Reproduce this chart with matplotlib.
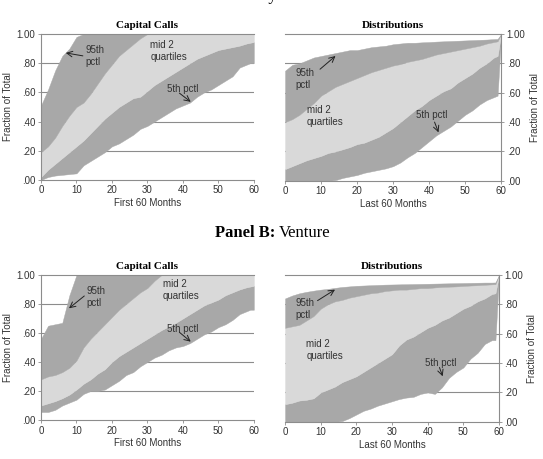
"""
Appels de capital et distributions : bandes de percentiles (Buyout / Venture)
"""

import matplotlib
matplotlib.use('Agg')
import matplotlib.pyplot as plt

# Mois (axe x commun aux quatre panneaux)
MONTHS = [0, 2, 4, 6, 8, 10, 12, 14, 16, 18, 20, 22, 24, 26, 28, 30,
          32, 34, 36, 38, 40, 42, 44, 46, 48, 50, 52, 54, 56, 58, 59, 60]

# Panel A (Buyout) - appels de capital
b_calls_p95 = [0.51, 0.62, 0.75, 0.85, 0.90, 0.98, 1.0, 1.0, 1.0, 1.0, 1.0, 1.0, 1.0, 1.0, 1.0, 1.0,
               1.0, 1.0, 1.0, 1.0, 1.0, 1.0, 1.0, 1.0, 1.0, 1.0, 1.0, 1.0, 1.0, 1.0, 1.0, 1.0]
b_calls_p75 = [0.19, 0.23, 0.29, 0.37, 0.44, 0.50, 0.53, 0.59, 0.66, 0.73, 0.79, 0.85, 0.89, 0.93, 0.97, 1.0,
               1.0, 1.0, 1.0, 1.0, 1.0, 1.0, 1.0, 1.0, 1.0, 1.0, 1.0, 1.0, 1.0, 1.0, 1.0, 1.0]
b_calls_p25 = [0.02, 0.07, 0.11, 0.15, 0.19, 0.23, 0.27, 0.32, 0.37, 0.42, 0.46, 0.50, 0.53, 0.56, 0.57, 0.61,
               0.65, 0.68, 0.71, 0.74, 0.77, 0.80, 0.83, 0.85, 0.87, 0.89, 0.90, 0.91, 0.92, 0.935, 0.94, 0.945]
b_calls_p05 = [0.0, 0.02, 0.03, 0.035, 0.04, 0.045, 0.10, 0.13, 0.16, 0.19, 0.23, 0.25, 0.28, 0.31, 0.35, 0.37,
               0.40, 0.43, 0.46, 0.49, 0.51, 0.53, 0.57, 0.60, 0.62, 0.65, 0.68, 0.71, 0.77, 0.79, 0.80, 0.80]

# Panel A (Buyout) - distributions
b_dist_p95 = [0.75, 0.79, 0.80, 0.82, 0.84, 0.85, 0.86, 0.87, 0.88, 0.89, 0.89, 0.90, 0.91, 0.915, 0.92, 0.93,
              0.935, 0.94, 0.94, 0.943, 0.945, 0.948, 0.95, 0.952, 0.954, 0.956, 0.958, 0.96, 0.962, 0.965, 0.966, 1.0]
b_dist_p75 = [0.40, 0.42, 0.45, 0.49, 0.53, 0.58, 0.61, 0.64, 0.66, 0.68, 0.70, 0.72, 0.74, 0.755, 0.77, 0.785,
              0.795, 0.81, 0.82, 0.83, 0.845, 0.86, 0.87, 0.88, 0.89, 0.90, 0.91, 0.92, 0.935, 0.945, 0.95, 1.0]
b_dist_p25 = [0.08, 0.10, 0.12, 0.14, 0.155, 0.17, 0.19, 0.20, 0.215, 0.23, 0.25, 0.26, 0.28, 0.30, 0.33, 0.36,
              0.40, 0.44, 0.48, 0.51, 0.55, 0.58, 0.61, 0.63, 0.67, 0.70, 0.73, 0.77, 0.80, 0.84, 0.85, 1.0]
b_dist_p05 = [0.0, 0.0, 0.0, 0.0, 0.0, 0.0, 0.0, 0.005, 0.02, 0.03, 0.04, 0.055, 0.065, 0.075, 0.085, 0.10,
              0.125, 0.16, 0.19, 0.23, 0.27, 0.31, 0.34, 0.37, 0.41, 0.45, 0.48, 0.52, 0.55, 0.57, 0.58, 1.0]

# Panel B (Venture) - appels de capital
v_calls_p95 = [0.56, 0.65, 0.66, 0.67, 0.86, 1.0, 1.0, 1.0, 1.0, 1.0, 1.0, 1.0, 1.0, 1.0, 1.0, 1.0,
               1.0, 1.0, 1.0, 1.0, 1.0, 1.0, 1.0, 1.0, 1.0, 1.0, 1.0, 1.0, 1.0, 1.0, 1.0, 1.0]
v_calls_p75 = [0.28, 0.30, 0.31, 0.33, 0.36, 0.41, 0.50, 0.56, 0.61, 0.66, 0.71, 0.76, 0.80, 0.84, 0.88, 0.91,
               0.96, 1.0, 1.0, 1.0, 1.0, 1.0, 1.0, 1.0, 1.0, 1.0, 1.0, 1.0, 1.0, 1.0, 1.0, 1.0]
v_calls_p25 = [0.10, 0.115, 0.13, 0.15, 0.175, 0.21, 0.25, 0.28, 0.32, 0.35, 0.40, 0.44, 0.47, 0.50, 0.53, 0.56,
               0.59, 0.62, 0.645, 0.67, 0.70, 0.73, 0.76, 0.79, 0.81, 0.83, 0.86, 0.88, 0.90, 0.915, 0.92, 0.925]
v_calls_p05 = [0.055, 0.055, 0.07, 0.10, 0.12, 0.14, 0.18, 0.20, 0.20, 0.21, 0.24, 0.27, 0.31, 0.33, 0.37, 0.40,
               0.43, 0.45, 0.48, 0.50, 0.51, 0.53, 0.56, 0.59, 0.61, 0.64, 0.66, 0.69, 0.73, 0.75, 0.76, 0.76]

# Panel B (Venture) - distributions
v_dist_p95 = [0.84, 0.86, 0.875, 0.885, 0.893, 0.90, 0.905, 0.912, 0.918, 0.922, 0.926, 0.928, 0.93, 0.932, 0.934, 0.935,
              0.936, 0.937, 0.938, 0.939, 0.94, 0.941, 0.942, 0.943, 0.944, 0.945, 0.946, 0.947, 0.948, 0.948, 0.949, 1.0]
v_dist_p75 = [0.64, 0.65, 0.66, 0.69, 0.72, 0.77, 0.80, 0.82, 0.83, 0.845, 0.855, 0.865, 0.875, 0.88, 0.89, 0.895,
              0.90, 0.90, 0.905, 0.91, 0.91, 0.915, 0.918, 0.92, 0.922, 0.925, 0.928, 0.93, 0.933, 0.936, 0.937, 1.0]
v_dist_p25 = [0.12, 0.13, 0.145, 0.15, 0.16, 0.20, 0.22, 0.24, 0.27, 0.29, 0.31, 0.34, 0.37, 0.40, 0.43, 0.46,
              0.52, 0.56, 0.58, 0.61, 0.64, 0.66, 0.69, 0.71, 0.74, 0.77, 0.79, 0.82, 0.84, 0.87, 0.875, 1.0]
v_dist_p05 = [0.0, 0.0, 0.0, 0.0, 0.0, 0.0, 0.0, 0.0, 0.005, 0.025, 0.05, 0.075, 0.09, 0.11, 0.125, 0.14,
              0.155, 0.165, 0.17, 0.19, 0.20, 0.19, 0.235, 0.30, 0.34, 0.37, 0.43, 0.47, 0.53, 0.556, 0.556, 1.0]

Y_TICKS = [0.0, 0.2, 0.4, 0.6, 0.8, 1.0]
Y_TICK_LABELS = ['.00', '.20', '.40', '.60', '.80', '1.00']
X_TICKS = [0, 10, 20, 30, 40, 50, 60]

# Couleurs
DARK = '#a8a8a8'
LIGHT = '#d9d9d9'
GRID = '#8c8c8c'
TEXT = '#333333'

SANS = 'Liberation Sans'
SERIF = 'Liberation Serif'


def draw_panel(ax, p05, p25, p75, p95, title, xlabel, side):
    """Dessine les trois bandes de percentiles et habille l'axe"""
    ax.fill_between(MONTHS, p05, p25, color=DARK, lw=0.3, ec=DARK, zorder=2)
    ax.fill_between(MONTHS, p25, p75, color=LIGHT, lw=0.3, ec=LIGHT, zorder=2)
    ax.fill_between(MONTHS, p75, p95, color=DARK, lw=0.3, ec=DARK, zorder=2)

    # Lignes horizontales derrière les bandes
    for y in Y_TICKS[1:-1]:
        ax.axhline(y, color=GRID, lw=0.8, zorder=1)

    ax.set_xlim(0, 60)
    ax.set_ylim(0, 1)
    ax.set_xticks(X_TICKS)
    ax.set_xticklabels([str(x) for x in X_TICKS], fontsize=7, family=SANS, color=TEXT)
    ax.set_yticks(Y_TICKS)
    ax.set_yticklabels(Y_TICK_LABELS, fontsize=7, family=SANS, color=TEXT)
    ax.tick_params(length=2.5, width=0.6, color=GRID, pad=1.5)

    for name in ['top', 'bottom', 'left', 'right']:
        ax.spines[name].set_color(GRID)
        ax.spines[name].set_linewidth(0.8)
        ax.spines[name].set_zorder(3)

    if side == 'left':
        ax.spines['right'].set_visible(False)
    else:
        ax.spines['left'].set_visible(False)
        ax.yaxis.tick_right()
        ax.yaxis.set_label_position('right')

    ax.set_title(title, fontsize=8, family=SERIF, weight='bold', pad=4)
    ax.set_xlabel(xlabel, fontsize=7, family=SANS, color=TEXT, labelpad=2)
    ax.set_ylabel('Fraction of Total', fontsize=7, family=SANS, color=TEXT, labelpad=3)


def label(ax, text, xy, tip=None, start=None):
    """Ajoute une étiquette de percentile, avec une flèche éventuelle"""
    ax.text(xy[0], xy[1], text, fontsize=7, family=SANS, color=TEXT,
            ha='left', va='center', linespacing=1.25, zorder=5)
    if tip is not None:
        ax.annotate('', xy=tip, xytext=start, zorder=5,
                    arrowprops=dict(arrowstyle='->', color='#222222', lw=0.7,
                                    shrinkA=0, shrinkB=0))


def main():
    """Fonction principale"""
    fig = plt.figure(figsize=(5.43, 4.59), dpi=100)

    ax_a1 = fig.add_axes([0.0755, 0.608, 0.392, 0.318])
    ax_a2 = fig.add_axes([0.525, 0.606, 0.398, 0.320])
    ax_b1 = fig.add_axes([0.0755, 0.085, 0.392, 0.316])
    ax_b2 = fig.add_axes([0.525, 0.081, 0.394, 0.320])

    draw_panel(ax_a1, b_calls_p05, b_calls_p25, b_calls_p75, b_calls_p95,
               'Capital Calls', 'First 60 Months', 'left')
    draw_panel(ax_a2, b_dist_p05, b_dist_p25, b_dist_p75, b_dist_p95,
               'Distributions', 'Last 60 Months', 'right')
    draw_panel(ax_b1, v_calls_p05, v_calls_p25, v_calls_p75, v_calls_p95,
               'Capital Calls', 'First 60 Months', 'left')
    draw_panel(ax_b2, v_dist_p05, v_dist_p25, v_dist_p75, v_dist_p95,
               'Distributions', 'Last 60 Months', 'right')

    # Étiquettes - Buyout
    label(ax_a1, '95th\npctl', (12.6, 0.85), tip=(7.0, 0.87), start=(11.8, 0.85))
    label(ax_a1, 'mid 2\nquartiles', (30.8, 0.88))
    label(ax_a1, '5th pctl', (35.5, 0.62), tip=(42.2, 0.535), start=(39.0, 0.595))
    label(ax_a2, '95th\npctl', (3.0, 0.69), tip=(14.0, 0.85), start=(9.7, 0.76))
    label(ax_a2, 'mid 2\nquartiles', (6.0, 0.44))
    label(ax_a2, '5th pctl', (36.4, 0.45), tip=(42.6, 0.33), start=(41.5, 0.40))

    # Étiquettes - Venture
    label(ax_b1, '95th\npctl', (12.7, 0.85), tip=(7.9, 0.77), start=(12.2, 0.855))
    label(ax_b1, 'mid 2\nquartiles', (34.4, 0.895))
    label(ax_b1, '5th pctl', (35.5, 0.63), tip=(42.2, 0.54), start=(39.0, 0.605))
    label(ax_b2, '95th\npctl', (3.0, 0.765), tip=(14.0, 0.90), start=(9.1, 0.825))
    label(ax_b2, 'mid 2\nquartiles', (6.0, 0.49))
    label(ax_b2, '5th pctl', (39.3, 0.40), tip=(44.2, 0.31), start=(43.3, 0.37))

    # Titre du panneau A : coupé en haut de l'image, seul le bas du « y » dépasse
    fig.text(0.459, 1.0, 'Buyout', fontsize=12, family=SERIF, ha='left', va='baseline')
    fig.text(0.5064, 0.4924, 'Panel B:', fontsize=12, family=SERIF, weight='bold',
             ha='right', va='center')
    fig.text(0.514, 0.4924, 'Venture', fontsize=12, family=SERIF, ha='left', va='center')

    fig.savefig('out.png', dpi=100)


if __name__ == "__main__":
    main()
